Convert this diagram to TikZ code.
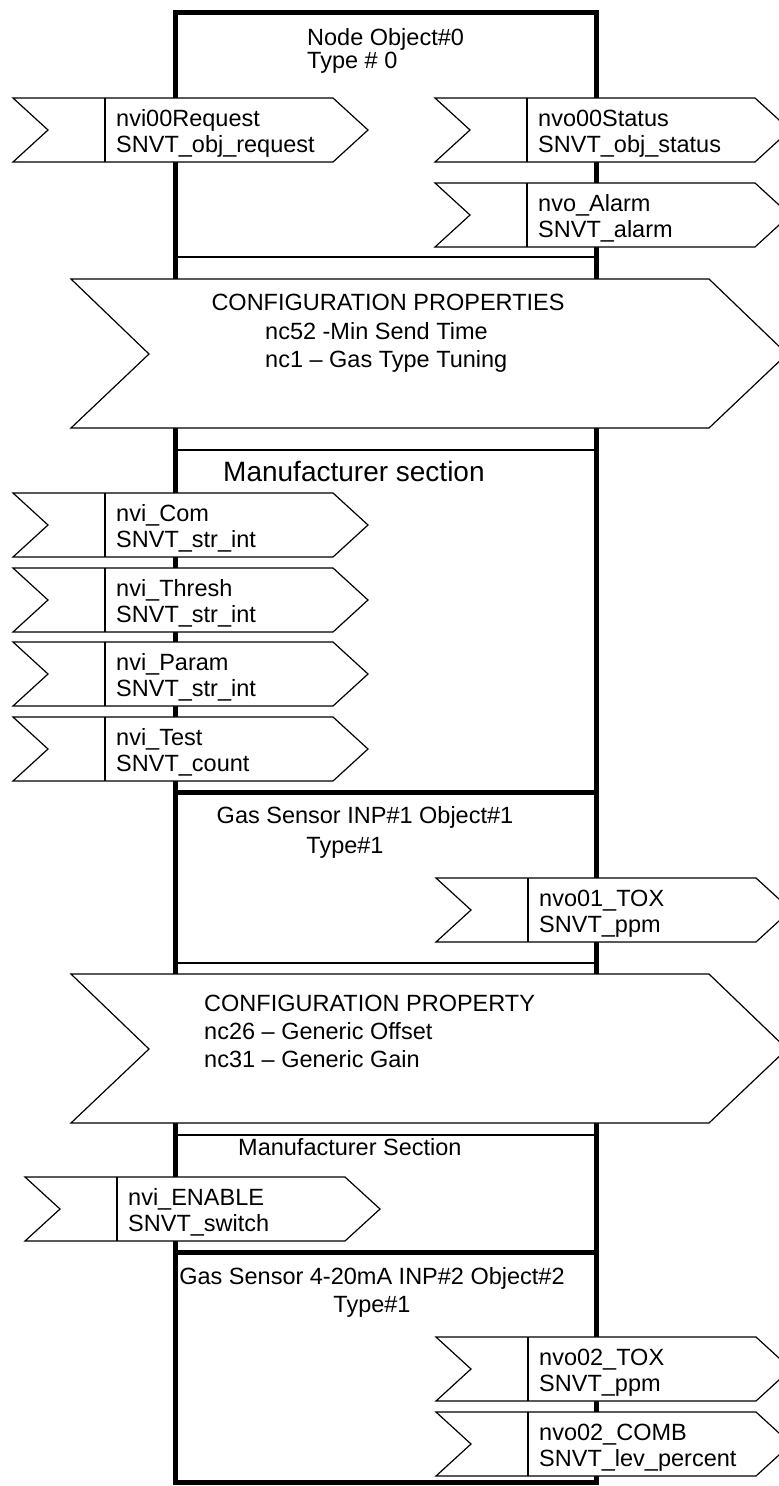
\documentclass[tikz,border=0pt]{standalone}
\usepackage{fontspec}
\setmainfont{Liberation Sans}
\usetikzlibrary{positioning,calc}
\tikzset{
  objframe/.style={draw=black,line width=5pt},
  divline/.style={draw=black,line width=1.2pt},
  flag/.style={draw=black,fill=white,line width=1.2pt,line join=miter},
  vartext/.style={inner sep=0pt,anchor=west,align=left,font=\fontsize{23.5}{25.5}\selectfont},
  headtext/.style={inner sep=0pt,align=left,font=\fontsize{23.5}{28}\selectfont},
}

\begin{document}
\begin{tikzpicture}[x=1pt,y=-1pt]
  \useasboundingbox (0,0) rectangle (779,1486);
  \clip (0,0) rectangle (779,1486);
  % object block
  \draw[objframe] (175,12) rectangle (596,1482);
  \draw[objframe] (175,792) -- (596,792);
  \draw[objframe] (175,1252) -- (596,1252);
  \foreach \y in {257,450,963,1135} {\draw[divline] (177,\y) -- (594,\y);}
  % configuration properties
  \foreach \t in {279,974} {
    \draw[flag] (71,\t) -- (709,\t) -- ++(78,75) -- ++(-78,74) -- (71,\t+149) -- ++(78,-74) -- cycle;}
  % network variables
  \foreach \n/\x/\y/\a/\b in {
      nviReq/13/98/nvi00Request/SNVT\_obj\_request,
      nvoStat/435/98/nvo00Status/SNVT\_obj\_status,
      nvoAlarm/435/183/nvo\_Alarm/SNVT\_alarm,
      nviCom/13/493/nvi\_Com/SNVT\_str\_int,
      nviThresh/13/568/nvi\_Thresh/SNVT\_str\_int,
      nviParam/13/642/nvi\_Param/SNVT\_str\_int,
      nviTest/13/717/nvi\_Test/SNVT\_count,
      nvoToxA/436/878/nvo01\_TOX/SNVT\_ppm,
      nviEnable/25/1177/nvi\_ENABLE/SNVT\_switch,
      nvoToxB/436/1337/nvo02\_TOX/SNVT\_ppm,
      nvoComb/436/1412/nvo02\_COMB/SNVT\_lev\_percent} {
    \draw[flag] (\x,\y) -- ++(320,0) -- ++(35,32) -- ++(-35,32) -- ++(-320,0) -- ++(35,-32) -- cycle;
    \draw[flag] (\x+92,\y) -- ++(0,64);
    \node[vartext] (\n) at (\x+103,\y+35.5) {\a\\\b};
  }
  % headings
  \node[headtext,anchor=west,font=\fontsize{23.5}{23}\selectfont] (objA) at (307,51) {Node Object\#0\\Type \# 0};
  \node[headtext] (cfgAtitle) at (388,302) {CONFIGURATION PROPERTIES};
  \node[headtext,anchor=west] (cfgAlist) at (265,347.5) {nc52 -Min Send Time\\nc1 \textendash{} Gas Type Tuning};
  \node[headtext,anchor=west,font=\fontsize{28}{30}\selectfont] (mfrA) at (223,471) {Manufacturer section};
  \node[headtext] (objB) at (365,817.5) {Gas Sensor INP\#1 Object\#1};
  \node[headtext] (objBtype) at (345,847.5) {Type\#1};
  \node[headtext,anchor=west] (cfgB) at (204,1031.5) {CONFIGURATION PROPERTY\\nc26 \textendash{} Generic Offset\\nc31 \textendash{} Generic Gain};
  \node[headtext,anchor=west] (mfrB) at (238,1147) {Manufacturer Section};
  \node[headtext,align=center] (objC) at (372,1292.5) {Gas Sensor 4-20mA INP\#2 Object\#2\\Type\#1};
\end{tikzpicture}
\end{document}
